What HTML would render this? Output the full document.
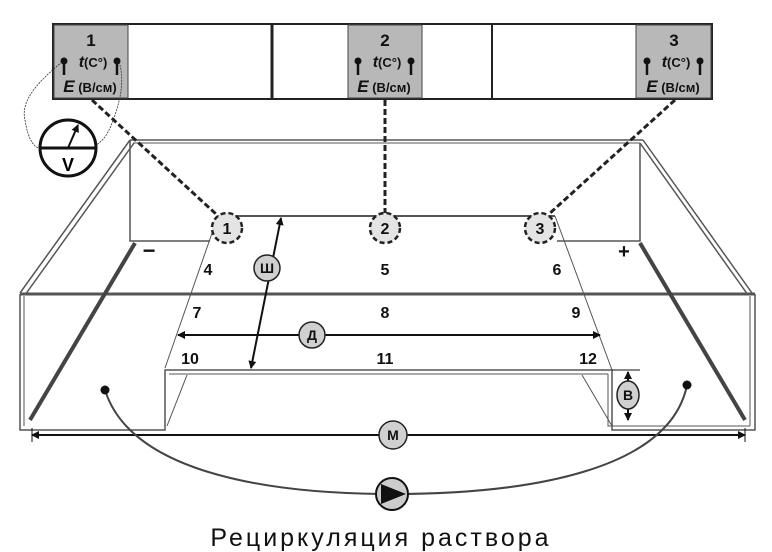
<!DOCTYPE html>
<html><head><style>body{margin:0;background:#fff}svg{display:block}</style></head><body>
<svg width="772" height="552" viewBox="0 0 772 552" xmlns="http://www.w3.org/2000/svg" font-family="Liberation Sans, sans-serif">
<defs>
<marker id="ah" markerWidth="8" markerHeight="8" refX="7" refY="4" orient="auto-start-reverse" markerUnits="userSpaceOnUse"><path d="M0,0 L8,4 L0,8 z" fill="#111"/></marker>
<g id="pins">
<circle cx="64" cy="61" r="3.5"/><line x1="64" y1="61" x2="64" y2="75" stroke="#111" stroke-width="2.5"/>
<circle cx="117" cy="61" r="3.5"/><line x1="117" y1="61" x2="117" y2="75" stroke="#111" stroke-width="2.5"/>
</g>
</defs>
<rect x="53" y="24" width="659" height="75" fill="#fff" stroke="#222" stroke-width="2"/>
<rect x="54" y="25" width="74" height="73" fill="#b8b8b8" stroke="#444"/>
<rect x="348" y="25" width="74" height="73" fill="#b8b8b8" stroke="#444"/>
<rect x="636" y="25" width="75" height="73" fill="#b8b8b8" stroke="#444"/>
<line x1="272" y1="24" x2="272" y2="99" stroke="#222" stroke-width="3"/>
<line x1="492" y1="24" x2="492" y2="99" stroke="#222" stroke-width="2"/>
<g font-weight="bold" fill="#111" text-anchor="middle">
<text x="91" y="46" font-size="17">1</text>
<text x="385" y="46" font-size="17">2</text>
<text x="674" y="46" font-size="17">3</text>
<g font-size="13">
<text x="93" y="67"><tspan font-style="italic" font-size="16">t</tspan>(C°)</text>
<text x="387" y="67"><tspan font-style="italic" font-size="16">t</tspan>(C°)</text>
<text x="676" y="67"><tspan font-style="italic" font-size="16">t</tspan>(C°)</text>
<text x="90" y="92"><tspan font-style="italic" font-size="17">E</tspan> (В/см)</text>
<text x="384" y="92"><tspan font-style="italic" font-size="17">E</tspan> (В/см)</text>
<text x="673" y="92"><tspan font-style="italic" font-size="17">E</tspan> (В/см)</text>
</g>
<use href="#pins"/>
<use href="#pins" x="294"/>
<use href="#pins" x="583"/>
</g>
<path d="M62,62 C40,80 20,100 25,120 C28,140 35,150 42,148" fill="none" stroke="#333" stroke-width="0.8" stroke-dasharray="2,1"/>
<path d="M119,62 C125,80 120,100 115,115 C110,130 105,140 96,145" fill="none" stroke="#333" stroke-width="0.8" stroke-dasharray="2,1"/>
<circle cx="68" cy="148" r="28" fill="#fff" stroke="#111" stroke-width="3"/>
<line x1="40" y1="148" x2="96" y2="148" stroke="#111" stroke-width="3"/>
<line x1="68" y1="148" x2="78" y2="125" stroke="#111" stroke-width="2" marker-end="url(#ah)"/>
<text x="68" y="171" font-size="18" font-weight="bold" text-anchor="middle">V</text>
<g fill="none" stroke="#555" stroke-width="1.5">
<path d="M130,140 L643,140"/><path d="M133,143 L640,143" stroke-width="1"/>
<path d="M130,140 L130,241 L210,241"/>
<path d="M640,143 L640,241 L557,241"/>
<path d="M130,140 L20,293 M134,143 L25,295"/>
<path d="M643,140 L752,293 M640,143 L748,295"/>
<path d="M20,294 L755,294" stroke-width="3"/>
<path d="M20,294 L20,430 L165,430 L165,370 L612,370 L612,430 L755,430 L755,294"/>
<path d="M24,296 L24,426 M750,296 L750,426" stroke-width="1"/>
<path d="M169,374 L608,374 M608,374 L608,426 L750,426" stroke-width="1"/>
<path d="M218,216 L555,216" stroke-width="2"/>
<path d="M218,216 L165,368 M555,216 L612,370" stroke-width="1"/>
<path d="M187,375 L167,426 M582,375 L612,426" stroke-width="1"/>
</g>
<line x1="135" y1="243" x2="30" y2="420" stroke="#444" stroke-width="4"/>
<line x1="640" y1="243" x2="745" y2="420" stroke="#444" stroke-width="4"/>
<g stroke="#222" stroke-width="3" stroke-dasharray="6,3" fill="none">
<line x1="92" y1="100" x2="216" y2="214"/>
<line x1="385" y1="100" x2="385" y2="213"/>
<line x1="675" y1="100" x2="549" y2="214"/>
</g>
<g fill="#e4e4e4" stroke="#222" stroke-width="2.5" stroke-dasharray="5,3">
<circle cx="227" cy="228" r="15"/><circle cx="385" cy="228" r="15"/><circle cx="540" cy="228" r="15"/>
</g>
<g font-weight="bold" font-size="16" text-anchor="middle" fill="#111">
<text x="227" y="234">1</text><text x="385" y="234">2</text><text x="540" y="234">3</text>
<text x="149" y="258" font-size="22">−</text><text x="624" y="258" font-size="20">+</text>
<text x="208" y="275">4</text><text x="385" y="275">5</text><text x="557" y="275">6</text>
<text x="197" y="318">7</text><text x="385" y="318">8</text><text x="576" y="318">9</text>
<text x="190" y="364">10</text><text x="385" y="364">11</text><text x="588" y="364">12</text>
</g>
<g stroke="#111" stroke-width="2" fill="none">
<line x1="281" y1="218" x2="251" y2="368" marker-start="url(#ah)" marker-end="url(#ah)"/>
<line x1="178" y1="335" x2="600" y2="335" marker-start="url(#ah)" marker-end="url(#ah)"/>
<line x1="628" y1="372" x2="628" y2="420" marker-start="url(#ah)" marker-end="url(#ah)"/>
<line x1="612" y1="370" x2="640" y2="370" stroke-width="1"/>
<line x1="32" y1="435" x2="745" y2="435" marker-start="url(#ah)" marker-end="url(#ah)"/>
<line x1="32" y1="428" x2="32" y2="442" stroke-width="1"/><line x1="745" y1="428" x2="745" y2="442" stroke-width="1"/>
</g>
<g fill="#d0d0d0" stroke="#222" stroke-width="1.5">
<circle cx="267" cy="268" r="13"/><circle cx="312" cy="335" r="13"/>
<ellipse cx="628" cy="395" rx="11" ry="14"/><circle cx="393" cy="435" r="14"/>
</g>
<g font-weight="bold" font-size="14" text-anchor="middle" fill="#111">
<text x="267" y="273">Ш</text><text x="312" y="340">Д</text><text x="628" y="400">В</text><text x="393" y="440">М</text>
</g>
<path d="M105,390 C130,470 260,494 392,494 C530,494 670,470 687,385" fill="none" stroke="#444" stroke-width="2"/>
<circle cx="105" cy="390" r="4.5" fill="#111"/><circle cx="687" cy="385" r="4.5" fill="#111"/>
<circle cx="392" cy="494" r="16" fill="#ccc" stroke="#111" stroke-width="2"/>
<path d="M381,484 L406,494 L381,504 z" fill="#111"/>
<text x="381" y="546" font-size="25" text-anchor="middle" letter-spacing="3" fill="#111">Рециркуляция раствора</text>
</svg>
</body></html>
